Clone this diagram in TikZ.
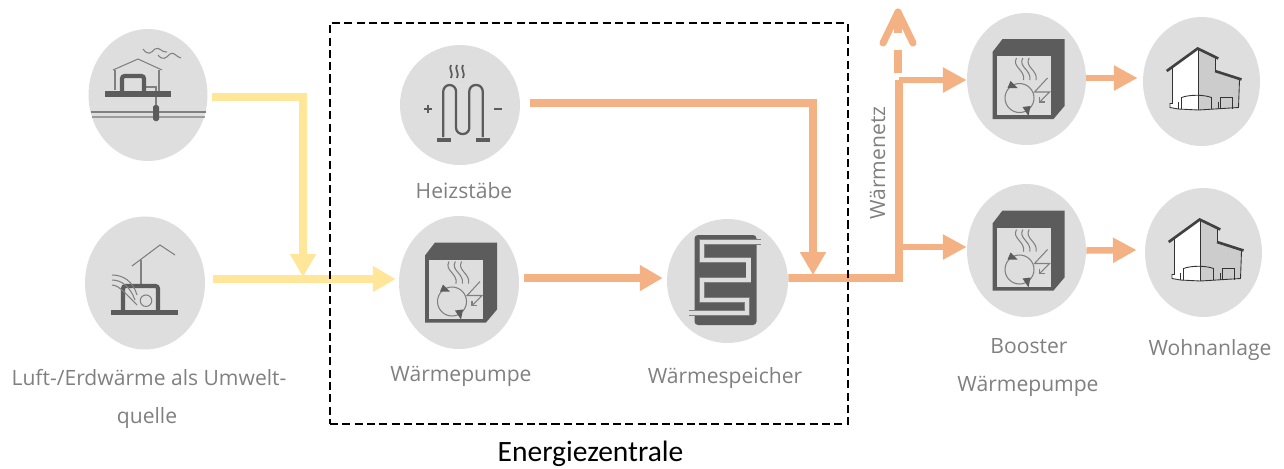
\documentclass[tikz,border=0pt]{standalone}
\usepackage{fontspec}
\usepackage{xcolor}
\usepackage{tikz}
\usetikzlibrary{shapes.geometric,arrows.meta}
\setmainfont{Open Sans}
\newfontfamily\zonefont{Carlito}
\definecolor{discgrey}{HTML}{DEDEDE}
\definecolor{icondark}{HTML}{5C5C5C}
\definecolor{iconline}{HTML}{808080}
\definecolor{labelgrey}{HTML}{808080}
\definecolor{coldline}{HTML}{FFE699}
\definecolor{warmline}{HTML}{F4B183}
\tikzset{
    disc/.style={ellipse,fill=discgrey,inner sep=0pt},
    lbl/.style={anchor=base,text=labelgrey,inner sep=0pt,font=\fontsize{12}{14}\selectfont},
    zone/.style={rectangle,draw=black,line width=1.4pt,dash pattern=on 4.6pt off 2.4pt,inner sep=0pt},
    coldpipe/.style={draw=coldline,line width=4.5pt,-{Triangle[length=13pt,width=14pt]}},
    warmpipe/.style={draw=warmline,line width=4.5pt,-{Triangle[length=13pt,width=14pt]}},
    warmstub/.style={draw=warmline,line width=3.7pt,-{Triangle[length=13.5pt,width=13.5pt]}},
    warmbus/.style={draw=warmline,line width=4.5pt,line cap=square},
    thinline/.style={draw=iconline,line width=.6pt},
    fatline/.style={draw=icondark,line width=2.4pt,rounded corners=1.5pt},
    pics/groundicon/.style={code={
        \draw[thinline] (-57,17) -- (58,17);
        \draw[thinline,opacity=.7] (-56,22) -- (57,22);
        \draw[thinline] (-33,-5) -- (-33,-25);
        \draw[thinline] (-35,-25) -- (-10,-36) -- (14,-25);
        \draw[thinline] (11,-25) -- (11,-4);
        \draw[thinline] (-2,-8) -- (8,-8) -- (8,12);
        \draw[thinline] (-5,-46) .. controls (0,-39) and (3,-42) .. (7,-46) .. controls (11,-49) and (14,-42) .. (19,-43);
        \draw[thinline] (10,-40) .. controls (15,-34) and (18,-37) .. (22,-41) .. controls (26,-44) and (28,-38) .. (33,-37);
        \draw[fatline] (-26,-4) -- (-26,-19) -- (-4,-19) -- (-4,-4);
        \fill[icondark] (-43,-4) rectangle (23,2);
        \fill[icondark,rounded corners=1pt] (5,10) rectangle (11,26);
    }},
    pics/airicon/.style={code={
        \draw[thinline] (-13,-17) -- (15,-38) -- (30,-28);
        \draw[thinline] (-4,-23) -- (-4,2);
        \draw[fatline] (-22,28) -- (-22,3) -- (13,3) -- (13,28);
        \draw[thinline] (1,17.7) circle[radius=.115cm];
        \draw[thinline] (-33,-8) .. controls (-22,-8) and (-12,-2) .. (-8,12);
        \draw[thinline] (-33,-3) .. controls (-24,-3) and (-15,3) .. (-10,17);
        \draw[thinline] (-33,2) .. controls (-26,2) and (-18,12) .. (-8,22);
        \fill[icondark] (-34,27) rectangle (33,32.3);
    }},
    pics/rodicon/.style={code={
        \draw[draw=icondark,line width=1.3pt,rounded corners=3.6pt] (-16.7,32) -- (-16.7,-20) -- (-4,-20) -- (-4,29) -- (9.3,29) -- (9.3,-20) -- (22.7,-20) -- (22.7,32);
        \fill[icondark] (-23,32.5) rectangle (-9,36.5);
        \fill[icondark] (15.7,32.5) rectangle (30,36.5);
        \draw[draw=icondark,line width=1.4pt] (-36,4) -- (-28,4) (-32,0) -- (-32,8);
        \draw[draw=icondark,line width=1.4pt] (34,4) -- (42,4);
        \foreach \i in {-9,-3,3}
            \draw[draw=icondark,line width=1pt] (\i,-40) .. controls (\i-3,-36) and (\i+3,-32) .. (\i,-27);
    }},
    pics/pumpicon/.style={code={
        \fill[icondark] (-34,-27) -- (-24,-40) -- (38,-40) -- (38,27) -- (27,40) -- (-34,40) -- cycle;
        \fill[discgrey] (-30,-23) rectangle (24,36);
        \foreach \i in {0,6.3,12.6}
            \draw[thinline] (-10+\i,-21) .. controls (-15+\i,-12) and (-1+\i,-9) .. (-3+\i,1);
        \draw[thinline] (-7,19) circle[radius=.29cm];
        \fill[icondark] (-19,9) -- (-16,2) -- (-9,9) -- cycle;
        \fill[icondark] (-4,28) -- (4,27) -- (2,37) -- cycle;
        \draw[thinline] (21,-1) -- (8,13) -- (23,13) -- (13,23);
        \draw[thinline] (13,18) -- (13,23) -- (18,23);
    }},
    pics/storeicon/.style={code={
        \fill[icondark,rounded corners=2pt] (-33,-46) rectangle (29,44);
        \draw[draw=iconline,line width=3.3pt] (33,-39) -- (-25.7,-39) -- (-25.7,-21) -- (21,-21) -- (21,-1) -- (-25.7,-1) -- (-25.7,19) -- (19.3,19) -- (19.3,32) -- (-39,32);
        \draw[draw=discgrey,line width=2.5pt] (33,-39) -- (-25.7,-39) -- (-25.7,-21) -- (21,-21) -- (21,-1) -- (-25.7,-1) -- (-25.7,19) -- (19.3,19) -- (19.3,32) -- (-39,32);
    }},
    pics/houseicon/.style={code={
        \fill[white] (-29,-14) -- (-3,-32) -- (-3,28.5) -- (-23,27.5) -- (-31.5,26) -- (-31.5,22) -- (-29,22) -- cycle;
        \fill[black!20] (-3,-32) -- (13.5,-24) -- (13.5,-10) -- (38,-1.5) -- (37,26) -- (-3,28.5) -- cycle;
        \draw[black!80,line width=.5pt] (-29,-14) -- (-29,22) -- (-31.5,22) -- (-31.5,26) -- (-23,27.5) -- (-3,28.5) -- (37,26) -- (38,-1.5);
        \draw[black!80,line width=.5pt] (-3,-32) -- (-3,28.5);
        \draw[black!80,line width=.5pt] (13.5,-24) -- (13.5,-10);
        \draw[black!80,line width=.5pt] (-20,27.5) -- (-20,16) .. controls (-12,13) and (2,13) .. (10,16) -- (10,27.5);
        \draw[black!80,line width=.5pt] (-23,20) -- (-23,27.5);
        \draw[black!80,line width=.5pt] (18.5,27.5) -- (18.5,16) -- (31,16) -- (31,27);
        \draw[black!80,line width=1pt] (17,20) -- (17,27.5);
        \draw[black!75,line width=1.5pt] (-34.8,-10.5) -- (-3.8,-33) -- (16.8,-23);
        \draw[black!75,line width=1.5pt] (13.5,-10.5) -- (40,-2);
    }},
}
\begin{document}
\begin{tikzpicture}[x=.02cm,y=-.02cm]
        \useasboundingbox (0,0) rectangle (1284,468);
        \node[disc,minimum width=2.38cm,minimum height=2.64cm] (geo) at (148,95) {};
        \node[disc,minimum width=2.4cm,minimum height=2.66cm] (air) at (145,283) {};
        \node[disc,minimum width=2.4cm,minimum height=2.4cm] (rod) at (460,105) {};
        \node[disc,minimum width=2.4cm,minimum height=2.66cm] (hp) at (459,282.5) {};
        \node[disc,minimum width=2.42cm,minimum height=2.48cm] (store) at (727.5,281) {};
        \node[disc,minimum width=2.38cm,minimum height=2.64cm] (boostA) at (1026.5,79) {};
        \node[disc,minimum width=2.38cm,minimum height=2.66cm] (boostB) at (1026.5,250.5) {};
        \node[disc,minimum width=2.34cm,minimum height=2.58cm] (homeA) at (1201.5,81.5) {};
        \node[disc,minimum width=2.34cm,minimum height=2.58cm] (homeB) at (1203.5,252.5) {};

        \pic at (geo) {groundicon};
        \pic at (air) {airicon};
        \pic at (rod) {rodicon};
        \pic at (hp) {pumpicon};
        \pic at (store) {storeicon};
        \pic at (boostA) {pumpicon};
        \pic at (boostB) {pumpicon};
        \pic at (homeA) {houseicon};
        \pic at (homeB) {houseicon};

        \coordinate (coldjoin) at (303,277);
        \coordinate (warmjoin) at (813,275);
        \coordinate (netlow) at (899,278);
        \coordinate (netmid) at (899,247);
        \coordinate (nettop) at (899,80);
        \coordinate (netdash) at (898,73);
        \coordinate (netup) at (898,12);

        \draw[coldpipe] ([shift={(4,2)}]geo.east) -| (coldjoin);
        \draw[coldpipe] ([shift={(8,-4)}]air.east) -- ([shift={(-3,-3.5)}]hp.west);
        \draw[warmpipe] ([shift={(5,-4.5)}]hp.east) -- ([shift={(-4,-3)}]store.west);
        \draw[warmpipe] ([shift={(10,-2)}]rod.east) -| (warmjoin);
        \draw[warmbus] ([yshift=.06cm]store.east) -- (netlow) -- (nettop);
        \draw[warmstub] (netmid) -- ([shift={(0,-3.5)}]boostB.west);
        \draw[warmstub] (nettop) -- ([shift={(0,1)}]boostA.west);
        \draw[warmstub] (boostA.east) ++(0,-1) -- ([shift={(-5,-3.5)}]homeA.west);
        \draw[warmstub] (boostB.east) -- ([shift={(-8,-2.5)}]homeB.west);
        \draw[draw=warmline,line width=4.5pt,dash pattern=on 13pt off 10pt on 40pt] (netdash) -- (netup);
        \draw[draw=warmline,line width=4pt,line cap=round,line join=round] ([shift={(-15,31)}]netup) -- (netup) -- ([shift={(15,31)}]netup);

        \node[zone,minimum width=10.36cm,minimum height=8.02cm] (plant) at (589,223.5) {};

        \node[lbl] (geotext) at (149,385) {Luft-/Erdwärme als Umwelt-};
        \node[lbl] (geotextb) at (147,423) {quelle};
        \node[lbl] (rodtext) at (464,198) {Heizstäbe};
        \node[lbl] (hptext) at (461,381) {Wärmepumpe};
        \node[lbl] (storetext) at (725,383) {Wärmespeicher};
        \node[lbl] (boosttext) at (1029,353) {Booster};
        \node[lbl] (boosttextb) at (1028,391) {Wärmepumpe};
        \node[lbl] (hometext) at (1210,355) {Wohnanlage};
        \node[lbl,rotate=90] (nettext) at (885,163) {Wärmenetz};
        \node[anchor=base,inner sep=0pt,font=\zonefont\fontsize{16.8}{20}\selectfont] (planttext) at (590.5,461) {Energiezentrale};
    \end{tikzpicture}
\end{document}
